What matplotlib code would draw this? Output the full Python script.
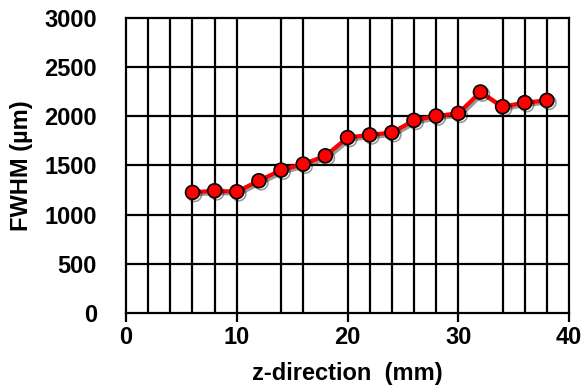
import matplotlib.pyplot as plt
import matplotlib.patheffects as pe

z = [6, 8, 10, 12, 14, 16, 18, 20, 22, 24, 26, 28, 30, 32, 34, 36, 38]
fwhm = [1226, 1243, 1233, 1345, 1453, 1514, 1598, 1784, 1811, 1834,
        1959, 2003, 2030, 2247, 2098, 2139, 2162]

# vertical grid lines as they appear in the original
vgrid = [2, 4, 6, 8, 10, 14, 16, 20, 22, 24, 26, 28, 30, 34, 36, 38]

plt.rcParams['font.family'] = ['Liberation Sans', 'DejaVu Sans']

fig = plt.figure(figsize=(5.84, 3.89), dpi=100)
ax = fig.add_axes([0.2158, 0.1954, 0.7586, 0.7584])

for v in vgrid:
    ax.axvline(v, color='black', lw=1.6, zorder=1)
for h in range(500, 3000, 500):
    ax.axhline(h, color='black', lw=1.6, zorder=1)

shadow = [pe.SimpleLineShadow(offset=(1.5, -1.5), alpha=0.4), pe.Normal()]
ax.plot(z, fwhm, color='red', lw=3, marker='o', ms=10, mfc='red',
        mec='black', mew=1.2, zorder=3, path_effects=shadow)

ax.set_xlim(0, 40)
ax.set_ylim(0, 3000)
ax.set_xticks([0, 10, 20, 30, 40])
ax.set_yticks(range(0, 3001, 500))
for s in ax.spines.values():
    s.set_linewidth(1.6)
ax.tick_params(axis='x', direction='out', length=6.5, width=1.6, labelsize=17, pad=3)
ax.tick_params(axis='y', length=0, labelsize=17, pad=21)
for lab in ax.get_xticklabels() + ax.get_yticklabels():
    lab.set_fontweight('bold')

ax.set_xlabel('z-direction  (mm)', fontsize=17, fontweight='bold', labelpad=9)
ax.set_ylabel('FWHM (µm)', fontsize=17, fontweight='bold', labelpad=8)

fig.savefig('out.png', dpi=100)
